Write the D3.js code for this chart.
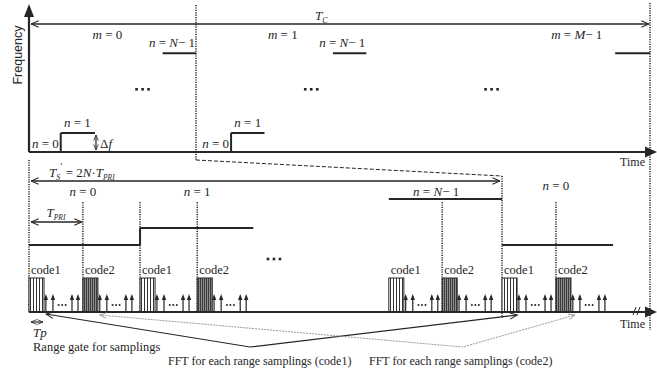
<!DOCTYPE html>
<html>
<head>
<meta charset="utf-8">
<script src="https://cdn.jsdelivr.net/npm/d3@7"></script>
<style>
html, body { margin: 0; padding: 0; background: #fff; }
svg { display: block; font-family: "Liberation Serif", "Times New Roman", serif; }
</style>
</head>
<body>
<svg id="chart" width="657" height="372"></svg>
<script>
// ---- values ----
// top panel: time in frame units (one frame = one m), frequency in steps of Δf
const frameLabels = ["0", "1", "M-1"];
const frameLabelT = [0.47, 1.52, 3.28];
const topSteps = [ // [t0, t1, f]
  [0.00, 0.19, 0], [0.19, 0.395, 1], [0.80, 1.00, 5.2],
  [1.00, 1.21, 0], [1.21, 1.41, 1], [1.82, 2.02, 5.2],
  [3.51, 3.72, 5.2]
];
const topRiseT = [0.19, 1.21];
const topLastT = [1.00, 2.02];
const topGapT = [0.68, 1.69, 2.77];
const topGapF = 3.3;

// bottom panel: time in T_PRI units, frequency in steps
const pulseT = [0, 0.99, 2.04, 3.09, 6.61, 7.59, 8.69, 9.68];
const pulseCode = [1, 2, 1, 2, 1, 2, 1, 2];
const gateOffsets = [0.31, 0.44, 0.79, 0.90];
const gateDotsOffset = 0.61;
const botSteps = [[0, 2.04, 0], [2.04, 4.12, 1], [6.61, 8.69, 2.7], [8.69, 10.73, 0]];
const botRiseT = [2.04];
const chirpLabels = ["0", "1", "N-1", "0"];
const chirpLabelT = [0.99, 3.09, 7.48, 9.68];
const markerT = [0.99, 2.04, 3.09, 7.59, 9.68];
const botGapT = 4.5;
const fftCode1 = [0.31, 4.06, 8.97];
const fftCode2 = [1.30, 7.97, 10.03];

const ink = "#262626";
const svg = d3.select("#chart");

const xTop = d3.scaleLinear().domain([0, 3.75]).range([29, 655.25]);
const yTop = d3.scaleLinear().domain([0, 1]).range([152, 133]);
const xBot = d3.scaleLinear().domain([0, 11.5]).range([29, 655]);
const yBot = d3.scaleLinear().domain([0, 1]).range([245, 228]);

const defs = svg.append("defs");
function openHead(id, size, color) {
  defs.append("marker").attr("id", id).attr("viewBox", "0 0 10 10")
    .attr("refX", 9.5).attr("refY", 5).attr("markerUnits", "userSpaceOnUse")
    .attr("markerWidth", size).attr("markerHeight", size).attr("orient", "auto-start-reverse")
    .append("path").attr("d", "M0,1 L9.5,5 L0,9").attr("fill", "none")
    .attr("stroke", color).attr("stroke-width", 1.3);
}
openHead("open", 8, ink);
openHead("openS", 6, ink);
openHead("openG", 7, "#9a9a9a");

const p1 = defs.append("pattern").attr("id", "code1").attr("patternUnits", "userSpaceOnUse")
  .attr("width", 3).attr("height", 10);
p1.append("rect").attr("width", 3).attr("height", 10).attr("fill", "#fff");
p1.append("rect").attr("width", 1).attr("height", 10).attr("fill", "#333");
const p2 = defs.append("pattern").attr("id", "code2").attr("patternUnits", "userSpaceOnUse")
  .attr("width", 2).attr("height", 2);
p2.append("rect").attr("width", 2).attr("height", 2).attr("fill", "#8c8c8c");
p2.append("rect").attr("width", 1).attr("height", 2).attr("fill", "#3c3c3c");

function line(g, x1, y1, x2, y2, w, dash) {
  return g.append("line").attr("x1", x1).attr("y1", y1).attr("x2", x2).attr("y2", y2)
    .attr("stroke", ink).attr("stroke-width", w || 1.5).attr("stroke-dasharray", dash || null);
}
// text with italic / subscript parts: [text, italic, dy, size]
function rich(g, x, y, parts, anchor, size) {
  const t = g.append("text").attr("x", x).attr("y", y).attr("fill", ink)
    .attr("text-anchor", anchor || "start").style("font-size", (size || 13) + "px");
  let cur = 0;
  parts.forEach(p => {
    const dy = (p[2] || 0) - cur; cur = p[2] || 0;
    t.append("tspan").attr("dy", dy).text(p[0])
      .style("font-style", p[1] ? "italic" : null)
      .style("font-size", p[3] ? p[3] + "px" : null);
  });
  return t;
}
// "n = N−1" style label parts
function eqParts(v, lhs) {
  if (/-/.test(v)) return [[lhs, true], [" = "], [v[0], true], ["\u2212 1"]];
  return [[lhs, true], [" = " + v]];
}
function dots(g, cx, cy) {
  [-6, 0, 6].forEach(o => g.append("rect").attr("x", cx + o - 1.3).attr("y", cy - 1.3)
    .attr("width", 2.6).attr("height", 2.6).attr("fill", ink));
}

// ---------- top panel ----------
const gTop = svg.append("g");
line(gTop, 29, 152, 646, 152, 2.2);
gTop.append("path").attr("d", "M645,146.5 L657,152 L645,157.5Z").attr("fill", ink);
line(gTop, 29, 152, 29, 14, 2.2);
gTop.append("path").attr("d", "M24,17 L29,4 L34,17Z").attr("fill", ink);
gTop.append("text").attr("transform", "translate(22,55) rotate(-90)").attr("text-anchor", "middle")
  .style("font-family", "'Liberation Sans', Arial, sans-serif").style("font-size", "12.5px")
  .attr("fill", ink).text("Frequency");
gTop.append("text").attr("x", 645).attr("y", 166).attr("text-anchor", "end")
  .style("font-size", "12px").attr("fill", ink).text("Time");

line(gTop, xTop(1), 5, xTop(1), 160, 1.5, "1.2,1.2");
line(gTop, 650, 3, 650, 330, 1.5, "1.2,1.2");

line(gTop, 31, 24, 649, 24, 1.3).attr("marker-start", "url(#open)").attr("marker-end", "url(#open)");
rich(gTop, 315, 20, [["T", true], ["C", true, 3, 8]], "start", 13);

frameLabels.forEach((m, i) => rich(gTop, xTop(frameLabelT[i]), 39, eqParts(m, "m"), "middle"));

topSteps.forEach(s => line(gTop, xTop(s[0]), yTop(s[2]), xTop(s[1]), yTop(s[2]), 2));
topRiseT.forEach(t => line(gTop, xTop(t), yTop(0), xTop(t), yTop(1), 2));
topGapT.forEach(t => dots(gTop, xTop(t), yTop(topGapF)));

topRiseT.forEach(t => {
  rich(gTop, xTop(t) - 2, 148, eqParts("0", "n"), "end");
  rich(gTop, xTop(t + 0.1), 127, eqParts("1", "n"), "middle");
});
topLastT.forEach(t => rich(gTop, xTop(t) - 1, 47, eqParts("N-1", "n"), "end"));

line(gTop, 96, 135, 96, 150, 1.2).attr("marker-start", "url(#openS)").attr("marker-end", "url(#openS)");
rich(gTop, 100, 148, [["\u0394"], ["f", true]], "start", 13);

// zoom connector
line(gTop, xTop(1), 160, xBot(8.69), 176, 1, "4,2");

// ---------- bottom panel ----------
const gBot = svg.append("g");
line(gBot, 29, 160, 29, 312, 1.5, "1.2,1.2");
line(gBot, xBot(8.69), 176, xBot(8.69), 318, 1.5, "1.2,1.2");
markerT.forEach(t => line(gBot, xBot(t), 202, xBot(t), 312, 1.5, "1.2,1.2"));

line(gBot, 31, 181, xBot(8.69) - 2, 181, 1.3).attr("marker-start", "url(#open)").attr("marker-end", "url(#open)");
rich(gBot, 49, 177, [["T", true], ["S", true, 3, 8], ["\u2032", false, -7, 10], [" = 2", false, 0], ["N", true], ["\u00b7"], ["T", true], ["PRI", true, 3, 7.5]], "start", 13);

line(gBot, 31, 222, xBot(0.99) - 1, 222, 1.3).attr("marker-start", "url(#open)").attr("marker-end", "url(#open)");
rich(gBot, 56, 217, [["T", true], ["PRI", true, 3, 7.5]], "middle", 13);

chirpLabels.forEach((n, i) =>
  rich(gBot, xBot(chirpLabelT[i]), i === 3 ? 190 : 196, eqParts(n, "n"), "middle"));

botSteps.forEach(s => line(gBot, xBot(s[0]), yBot(s[2]), xBot(s[1]), yBot(s[2]), 2));
botRiseT.forEach(t => line(gBot, xBot(t), yBot(0), xBot(t), yBot(1), 2));
dots(gBot, xBot(botGapT), 259);

const bw = xBot(0.276) - xBot(0);
pulseT.forEach((t, i) => {
  const x0 = xBot(t);
  gBot.append("rect").attr("x", x0).attr("y", 278).attr("width", bw).attr("height", 34)
    .attr("fill", "url(#code" + pulseCode[i] + ")").attr("stroke", ink).attr("stroke-width", 1);
  gBot.append("text").attr("x", x0 + 2).attr("y", 274).style("font-size", "12.5px")
    .attr("fill", ink).text("code" + pulseCode[i]);
  gateOffsets.forEach(o => {
    const x = xBot(t + o);
    line(gBot, x, 312, x, 299, 1.2);
    gBot.append("path").attr("d", `M${x - 2.2},300 L${x},294 L${x + 2.2},300Z`).attr("fill", ink);
  });
  [-3.5, 0, 3.5].forEach(d => gBot.append("circle").attr("cx", xBot(t + gateDotsOffset) + d)
    .attr("cy", 305).attr("r", 1).attr("fill", ink));
});

line(gBot, 29, 312, 646, 312, 2.2);
gBot.append("path").attr("d", "M645,306.5 L657,312 L645,317.5Z").attr("fill", ink);
line(gBot, 633, 315, 636, 307, 1);
line(gBot, 637, 315, 640, 307, 1);
gBot.append("text").attr("x", 645).attr("y", 328).attr("text-anchor", "end")
  .style("font-size", "12px").attr("fill", ink).text("Time");

line(gBot, 31, 322, 43, 322, 1.2).attr("marker-start", "url(#openS)").attr("marker-end", "url(#openS)");
rich(gBot, 33, 337, [["Tp", true]], "start", 13);
gBot.append("text").attr("x", 33).attr("y", 351).style("font-size", "12.5px").attr("fill", ink)
  .text("Range gate for samplings");

// FFT guides
const fftLine = d3.line().x(d => xBot(d[0])).y(d => d[1]);
gBot.append("path").attr("d", fftLine([[fftCode1[0], 314], [fftCode1[1], 347], [fftCode1[2], 315]]))
  .attr("fill", "none").attr("stroke", ink).attr("stroke-width", 1.2)
  .attr("marker-start", "url(#open)").attr("marker-end", "url(#open)");
gBot.append("path").attr("d", fftLine([[fftCode2[0], 315], [fftCode2[1], 347], [fftCode2[2], 315]]))
  .attr("fill", "none").attr("stroke", "#9a9a9a").attr("stroke-width", 1).attr("stroke-dasharray", "2,1")
  .attr("marker-start", "url(#openG)").attr("marker-end", "url(#openG)");
gBot.append("text").attr("x", 168).attr("y", 365).style("font-size", "12px").attr("fill", ink)
  .text("FFT for each range samplings (code1)");
gBot.append("text").attr("x", 369).attr("y", 365).style("font-size", "12px").attr("fill", ink)
  .text("FFT for each range samplings (code2)");
</script>
</body>
</html>
